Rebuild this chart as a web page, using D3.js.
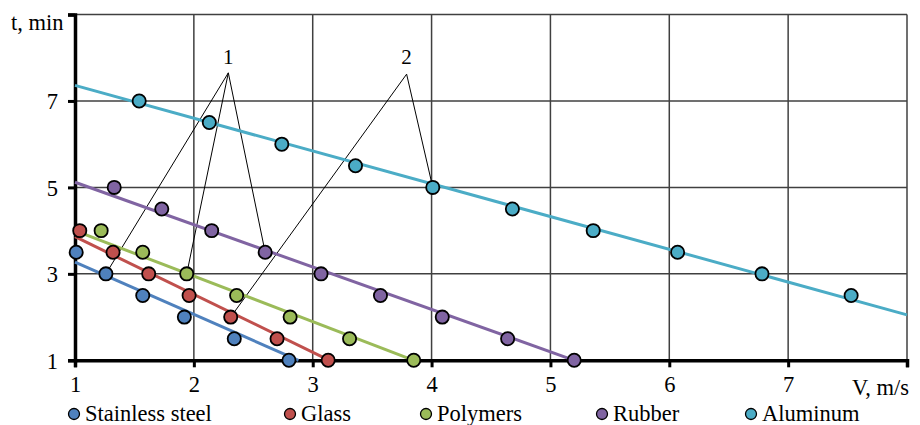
<!DOCTYPE html>
<html>
<head>
<meta charset="utf-8">
<script src="https://cdn.jsdelivr.net/npm/d3@7"></script>
<style>
  body { margin: 0; background: #fff; }
</style>
</head>
<body>
<svg width="920" height="425"></svg>
<script>
// series names and colours
var names = ["Stainless steel", "Glass", "Polymers", "Rubber", "Aluminum"];
var colors = ["#4F81BD", "#C0504D", "#9BBB59", "#8064A2", "#4BACC6"];

// measured points, [V, t]
var steel = [[1.01, 3.5], [1.26, 3.0], [1.57, 2.5], [1.92, 2.0], [2.34, 1.5], [2.80, 1.0]];
var glass = [[1.04, 4.0], [1.32, 3.5], [1.62, 3.0], [1.96, 2.5], [2.31, 2.0], [2.70, 1.5], [3.13, 1.0]];
var polymers = [[1.22, 4.0], [1.57, 3.5], [1.94, 3.0], [2.36, 2.5], [2.81, 2.0], [3.31, 1.5], [3.85, 1.0]];
var rubber = [[1.33, 5.0], [1.73, 4.5], [2.15, 4.0], [2.60, 3.5], [3.07, 3.0], [3.57, 2.5], [4.09, 2.0], [4.64, 1.5], [5.20, 1.0]];
var aluminum = [[1.54, 7.0], [2.13, 6.5], [2.74, 6.0], [3.36, 5.5], [4.01, 5.0], [4.68, 4.5], [5.36, 4.0], [6.07, 3.5], [6.78, 3.0], [7.53, 2.5]];

// trend lines (start, end)
var steelTrend = [[1, 3.27], [2.88, 1.0]];
var glassTrend = [[1, 3.86], [3.14, 1.0]];
var polymersTrend = [[1, 4.0], [3.85, 1.0]];
var rubberTrend = [[1, 5.12], [5.2, 1.0]];
var aluminumTrend = [[1, 7.36], [8, 2.05]];

var xTicks = [1, 2, 3, 4, 5, 6, 7, 8];
var yTicks = [1, 3, 5, 7, 9];

// callouts: label, label position, apex, targets
var callouts = [
  { label: "1", at: [2.29, 8.0], apex: [2.29, 7.65], to: [[1.26, 3.0], [1.94, 3.0], [2.60, 3.5]] },
  { label: "2", at: [3.79, 8.0], apex: [3.79, 7.62], to: [[2.31, 2.0], [4.01, 5.0]] }
];

var series = [steel, glass, polymers, rubber, aluminum];
var trends = [steelTrend, glassTrend, polymersTrend, rubberTrend, aluminumTrend];

var FONT = "'Liberation Serif', 'Times New Roman', serif";

var svg = d3.select("svg");
var x = d3.scaleLinear().domain([1, 8]).range([75, 907]);
var y = d3.scaleLinear().domain([1, 9]).range([360.3, 14.5]);

function serif(sel, size) {
  return sel.style("font-family", FONT).style("font-size", size + "px").attr("fill", "#000");
}

var grid = svg.append("g");
grid.selectAll("line.v").data(xTicks.slice(1)).enter().append("line")
  .attr("x1", d => x(d)).attr("x2", d => x(d))
  .attr("y1", y(9)).attr("y2", y(1))
  .attr("stroke", "#404040").attr("stroke-width", 1.5);
grid.selectAll("line.h").data(yTicks.slice(1)).enter().append("line")
  .attr("x1", x(1)).attr("x2", x(8))
  .attr("y1", d => y(d)).attr("y2", d => y(d))
  .attr("stroke", "#404040").attr("stroke-width", 1.5);

// axes
var xAxis = svg.append("g").attr("transform", "translate(0," + y(1) + ")")
  .call(d3.axisBottom(x).tickValues(xTicks).tickSize(7).tickFormat(d => d === 8 ? "" : d));
var yAxis = svg.append("g").attr("transform", "translate(" + x(1) + ",0)")
  .call(d3.axisLeft(y).tickValues(yTicks).tickSize(7).tickFormat(d => d === 9 ? "" : d));
[xAxis, yAxis].forEach(function (a) {
  a.select(".domain").attr("stroke", "#000").attr("stroke-width", 3.5);
  a.selectAll(".tick line").attr("stroke", "#000").attr("stroke-width", 3);
  serif(a.selectAll(".tick text"), 22.5);
});
xAxis.selectAll(".tick text").attr("y", 16);
yAxis.selectAll(".tick text").attr("x", -17).attr("dy", "0.35em");

serif(svg.append("text").attr("x", 11).attr("y", 30), 22.5).text("t, min");
serif(svg.append("text").attr("x", 909).attr("y", 395).attr("text-anchor", "end"), 22.5).text("V, m/s");

// callout lines
callouts.forEach(function (c) {
  svg.selectAll(null).data(c.to).enter().append("line")
    .attr("x1", x(c.apex[0])).attr("y1", y(c.apex[1]))
    .attr("x2", d => x(d[0])).attr("y2", d => y(d[1]))
    .attr("stroke", "#000").attr("stroke-width", 1);
  serif(svg.append("text").attr("x", x(c.at[0])).attr("y", y(c.at[1]) + 6)
    .attr("text-anchor", "middle"), 21).text(c.label);
});

// trend lines
var line = d3.line().x(d => x(d[0])).y(d => y(d[1]));
svg.selectAll("path.trend").data(trends).enter().append("path")
  .attr("class", "trend")
  .attr("d", line)
  .attr("fill", "none")
  .attr("stroke", (d, i) => colors[i])
  .attr("stroke-width", 3);

// points
series.forEach(function (s, i) {
  svg.append("g").selectAll("circle").data(s).enter().append("circle")
    .attr("cx", d => x(d[0])).attr("cy", d => y(d[1]))
    .attr("r", 6.6)
    .attr("fill", colors[i])
    .attr("stroke", "#000").attr("stroke-width", 1.8);
});

// legend
var legendX = [74, 290, 426, 602, 751];
var legend = svg.append("g").selectAll("g").data(names).enter().append("g")
  .attr("transform", (d, i) => "translate(" + legendX[i] + ",414)");
legend.append("circle").attr("r", 5.5)
  .attr("fill", (d, i) => colors[i]).attr("stroke", "#000").attr("stroke-width", 1.3);
serif(legend.append("text").attr("x", 11).attr("y", 7), 22.5).text(d => d);
</script>
</body>
</html>
